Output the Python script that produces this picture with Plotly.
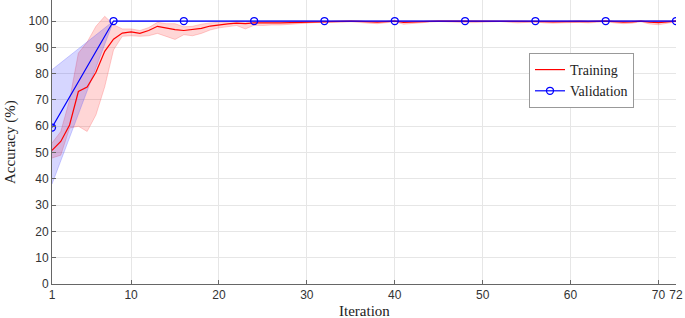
import plotly.graph_objects as go

iterations = list(range(1, 73))
train_mean = [50.8, 54.2, 60.5, 73.2, 74.9, 80.5, 88.5, 93.1, 95.4, 95.9,
              95.3, 96.4, 98.0, 97.3, 96.7, 96.4, 96.7, 97.2, 98.1, 98.6,
              98.9, 99.2, 99.0, 99.3, 99.2, 99.3, 99.3, 99.4, 99.6, 99.7,
              99.8, 99.8, 99.9, 99.9, 100.0, 99.9, 99.7, 99.6, 99.8, 100.0,
              99.5, 99.7, 99.8, 99.9, 100.0, 100.0, 99.9, 99.8, 99.8, 99.9,
              100.0, 100.0, 99.9, 99.8, 99.9, 100.0, 99.8, 99.7, 99.8, 99.9,
              99.9, 99.8, 99.9, 100.0, 99.8, 99.6, 99.7, 100.0, 99.6, 99.4,
              99.7, 100.0]
train_upper = [53.6, 58.0, 70.0, 87.8, 92.0, 98.0, 101.8, 98.6, 97.0, 97.0,
               96.4, 97.5, 99.5, 99.0, 99.0, 97.8, 98.0, 98.8, 99.3, 99.6,
               99.8, 100.0, 99.9, 100.0, 99.9, 100.0, 100.0, 100.0, 100.1, 100.1,
               100.2, 100.2, 100.2, 100.2, 100.2, 100.2, 100.1, 100.1, 100.2, 100.2,
               100.1, 100.1, 100.2, 100.2, 100.2, 100.2, 100.2, 100.2, 100.2, 100.2,
               100.2, 100.2, 100.2, 100.2, 100.2, 100.2, 100.2, 100.1, 100.2, 100.2,
               100.2, 100.2, 100.2, 100.2, 100.2, 100.1, 100.1, 100.2, 100.1, 100.0,
               100.1, 100.2]
train_lower = [47.9, 49.0, 59.3, 60.0, 58.0, 64.3, 75.0, 89.0, 94.2, 94.4,
               94.2, 94.4, 95.3, 94.2, 93.0, 94.8, 94.4, 95.3, 96.6, 97.4,
               97.8, 98.3, 97.0, 98.4, 98.3, 98.5, 98.5, 98.6, 99.0, 99.2,
               99.4, 99.4, 99.5, 99.5, 99.7, 99.5, 99.2, 99.0, 99.3, 99.7,
               98.8, 99.2, 99.4, 99.6, 99.8, 99.8, 99.5, 99.4, 99.4, 99.5,
               99.7, 99.8, 99.5, 99.3, 99.5, 99.7, 99.3, 99.2, 99.3, 99.5,
               99.5, 99.3, 99.5, 99.7, 99.3, 99.0, 99.2, 99.7, 98.9, 98.6,
               99.1, 99.7]

val_iterations = [1, 8, 16, 24, 32, 40, 48, 56, 64, 72]
val_mean = [59.5, 100, 100, 100, 100, 100, 100, 100, 100, 100]
val_upper = [81.5, 100, 100, 100, 100, 100, 100, 100, 100, 100]
val_lower = [38.0, 100, 100, 100, 100, 100, 100, 100, 100, 100]

x_ticks = [1, 10, 20, 30, 40, 50, 60, 70, 72]
y_ticks = list(range(0, 101, 10))

serif = "Liberation Serif, DejaVu Serif, serif"

fig = go.Figure()
fig.add_trace(go.Scatter(x=iterations + iterations[::-1],
                         y=train_upper + train_lower[::-1],
                         fill="toself", fillcolor="rgba(255,0,0,0.16)",
                         line=dict(color="rgba(255,80,80,0.35)", width=0.8),
                         hoverinfo="skip", showlegend=False))
fig.add_trace(go.Scatter(x=val_iterations + val_iterations[::-1],
                         y=val_upper + val_lower[::-1],
                         fill="toself", fillcolor="rgba(0,0,255,0.16)",
                         line=dict(color="rgba(80,80,255,0.35)", width=0.8),
                         hoverinfo="skip", showlegend=False))
fig.add_trace(go.Scatter(x=iterations, y=train_mean, mode="lines", name="Training",
                         line=dict(color="#ff0000", width=1.2)))
fig.add_trace(go.Scatter(x=val_iterations, y=val_mean, mode="lines+markers",
                         name="Validation",
                         line=dict(color="#0000ff", width=1.2),
                         marker=dict(symbol="circle-open", size=7,
                                     line=dict(color="#0000ff", width=1.3))))

fig.update_layout(
    width=685, height=318,
    margin=dict(l=52, r=9, t=0, b=34),
    plot_bgcolor="white", paper_bgcolor="white",
    font=dict(family="Liberation Sans, Arial, sans-serif", size=12, color="#333333"),
    legend=dict(x=(529 - 52) / 624, y=1 - 80.5 / 284, xanchor="left", yanchor="middle",
                bgcolor="white", bordercolor="#999999", borderwidth=1,
                font=dict(family=serif, size=14, color="#222222"),
                tracegroupgap=0, itemwidth=30),
    xaxis=dict(range=[1, 72], tickmode="array", tickvals=x_ticks,
               ticktext=[str(t) for t in x_ticks],
               showgrid=True, gridcolor="#e6e6e6", gridwidth=1,
               showline=True, linecolor="#666666", linewidth=1,
               ticks="inside", ticklen=4, tickcolor="#666666",
               zeroline=False, tickfont=dict(size=12, color="#333333")),
    yaxis=dict(range=[0, 108], tickmode="array", tickvals=y_ticks,
               showgrid=True, gridcolor="#e6e6e6", gridwidth=1,
               showline=True, linecolor="#666666", linewidth=1,
               ticks="inside", ticklen=4, tickcolor="#666666",
               zeroline=False, tickfont=dict(size=12, color="#333333")),
    annotations=[
        dict(text="Iteration", x=0.5, y=-(311 - 284) / 284, xref="paper", yref="paper",
             xanchor="center", yanchor="middle", showarrow=False,
             font=dict(family=serif, size=15, color="#222222")),
        dict(text="Accuracy (%)", x=-(52 - 10) / 624, y=0.5, xref="paper", yref="paper",
             xanchor="center", yanchor="middle", showarrow=False, textangle=-90,
             font=dict(family=serif, size=15, color="#222222")),
    ],
)

fig.write_html("out.html", config={"displayModeBar": False},
               post_script="document.body.style.margin='0';document.body.style.overflow='hidden';")
